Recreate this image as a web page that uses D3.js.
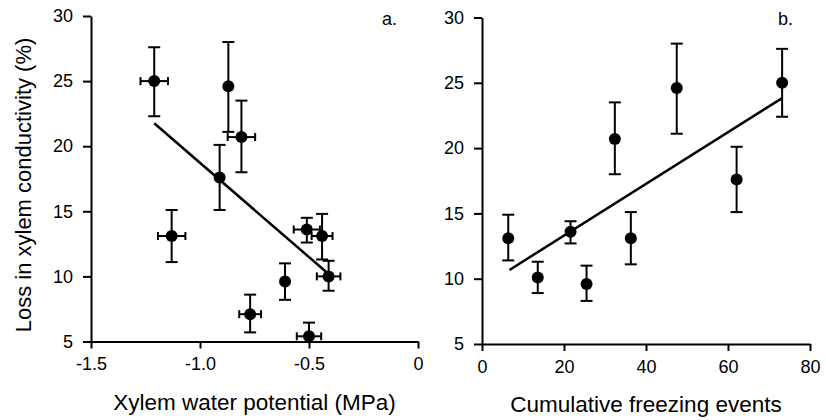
<!DOCTYPE html>
<html>
<head>
<meta charset="utf-8">
<script src="https://cdn.jsdelivr.net/npm/d3@7"></script>
<style>
  body { margin: 0; background: #fff; }
  svg { display: block; font-family: "Liberation Sans", Arial, Helvetica, sans-serif; }
  .axis path, .axis line { stroke: #000; stroke-width: 2; }
  .axis text { font-size: 18px; fill: #000; }
</style>
</head>
<body>
<div id="chart"></div>
<script>
// panel a: loss vs xylem water potential
const potential    = [-1.21, -0.87, -0.81, -0.91, -1.13, -0.51, -0.44, -0.41, -0.61, -0.77, -0.50];
const potentialErr = [0.063, 0, 0.063, 0, 0.063, 0.06, 0.048, 0.054, 0, 0.05, 0.056];
const lossA        = [25.0, 24.6, 20.7, 17.6, 13.1, 13.6, 13.1, 10.0, 9.6, 7.1, 5.4];
const lossAHi      = [27.6, 28.0, 23.5, 20.1, 15.1, 14.5, 14.8, 11.2, 11.0, 8.6, 6.45];
const lossALo      = [22.3, 21.1, 18.0, 15.1, 11.1, 12.6, 11.3, 8.9, 8.2, 5.7, 4.3];
const fitA = { x: [-1.21, -0.41], y: [21.76, 10.18] };

// panel b: loss vs cumulative freezing events
const freezing = [73.2, 47.5, 32.4, 62.1, 6.4, 21.6, 36.3, 13.6, 25.5];
const lossB    = [25.0, 24.6, 20.7, 17.6, 13.1, 13.6, 13.1, 10.1, 9.6];
const lossBHi  = [27.6, 28.0, 23.5, 20.1, 14.9, 14.4, 15.1, 11.3, 11.0];
const lossBLo  = [22.4, 21.1, 18.0, 15.1, 11.4, 12.7, 11.1, 8.9, 8.3];
const fitB = { x: [6.7, 73.1], y: [10.67, 23.81] };

const yTicks = [5, 10, 15, 20, 25, 30];
const xTicksA = [-1.5, -1.0, -0.5, 0];
const xTicksB = [0, 20, 40, 60, 80];

const svg = d3.select("#chart").append("svg")
    .attr("width", 826)
    .attr("height", 420);

function drawPanel(opt) {
  const g = svg.append("g");
  const x = opt.x, y = opt.y;

  // error bars (vertical)
  const cap = 6;
  opt.xs.forEach((xv, i) => {
    const cx = x(xv);
    const top = y(opt.hi[i]);
    const bot = y(Math.max(opt.lo[i], y.domain()[0]));
    g.append("line").attr("x1", cx).attr("x2", cx).attr("y1", top).attr("y2", bot)
      .attr("stroke", "#000").attr("stroke-width", 2);
    g.append("line").attr("x1", cx - cap).attr("x2", cx + cap).attr("y1", top).attr("y2", top)
      .attr("stroke", "#000").attr("stroke-width", 2);
    if (opt.lo[i] >= y.domain()[0]) {
      g.append("line").attr("x1", cx - cap).attr("x2", cx + cap).attr("y1", bot).attr("y2", bot)
        .attr("stroke", "#000").attr("stroke-width", 2);
    }
    // horizontal error bars
    if (opt.xerr && opt.xerr[i] > 0) {
      const cy = y(opt.ys[i]);
      const l = x(xv - opt.xerr[i]), r = x(xv + opt.xerr[i]);
      g.append("line").attr("x1", l).attr("x2", r).attr("y1", cy).attr("y2", cy)
        .attr("stroke", "#000").attr("stroke-width", 2);
      [l, r].forEach(e => g.append("line").attr("x1", e).attr("x2", e)
        .attr("y1", cy - 4).attr("y2", cy + 4)
        .attr("stroke", "#000").attr("stroke-width", 2));
    }
  });

  // regression line
  g.append("line")
    .attr("x1", x(opt.fit.x[0])).attr("y1", y(opt.fit.y[0]))
    .attr("x2", x(opt.fit.x[1])).attr("y2", y(opt.fit.y[1]))
    .attr("stroke", "#000").attr("stroke-width", 2.5);

  // points
  g.selectAll("circle")
    .data(opt.xs)
    .enter()
    .append("circle")
    .attr("cx", d => x(d))
    .attr("cy", (d, i) => y(opt.ys[i]))
    .attr("r", 6)
    .attr("fill", "#000");

  // axes
  g.append("g")
    .attr("class", "axis")
    .attr("transform", `translate(0, ${y.range()[0]})`)
    .call(d3.axisBottom(x).tickValues(opt.xTicks).tickSize(7).tickSizeOuter(0)
      .tickPadding(9).tickFormat(opt.fmt));

  g.append("g")
    .attr("class", "axis")
    .attr("transform", `translate(${x.range()[0]}, 0)`)
    .call(d3.axisLeft(y).tickValues(yTicks).tickSize(8).tickSizeOuter(0).tickPadding(10));

  // panel letter
  g.append("text")
    .attr("x", opt.letterX).attr("y", 25)
    .style("font-size", "18px")
    .text(opt.letter);

  // x title
  g.append("text")
    .attr("x", (x.range()[0] + x.range()[1]) / 2)
    .attr("y", opt.titleY)
    .attr("text-anchor", "middle")
    .style("font-size", "22.5px")
    .text(opt.title);
}

drawPanel({
  x: d3.scaleLinear().domain([-1.5, 0]).range([91, 418]),
  y: d3.scaleLinear().domain([5, 30]).range([341.5, 16]),
  xs: potential, ys: lossA, hi: lossAHi, lo: lossALo, xerr: potentialErr,
  fit: fitA,
  xTicks: xTicksA,
  fmt: d => d === 0 ? "0" : d.toFixed(1),
  letter: "a.", letterX: 382,
  title: "Xylem water potential (MPa)", titleY: 410
});

drawPanel({
  x: d3.scaleLinear().domain([0, 80]).range([482, 810]),
  y: d3.scaleLinear().domain([5, 30]).range([344, 17.5]),
  xs: freezing, ys: lossB, hi: lossBHi, lo: lossBLo,
  fit: fitB,
  xTicks: xTicksB,
  fmt: d => String(d),
  letter: "b.", letterX: 778,
  title: "Cumulative freezing events", titleY: 412
});

// shared y title
svg.append("text")
  .attr("transform", "translate(31, 185) rotate(-90)")
  .attr("text-anchor", "middle")
  .style("font-size", "22px")
  .text("Loss in xylem conductivity (%)");
</script>
</body>
</html>
